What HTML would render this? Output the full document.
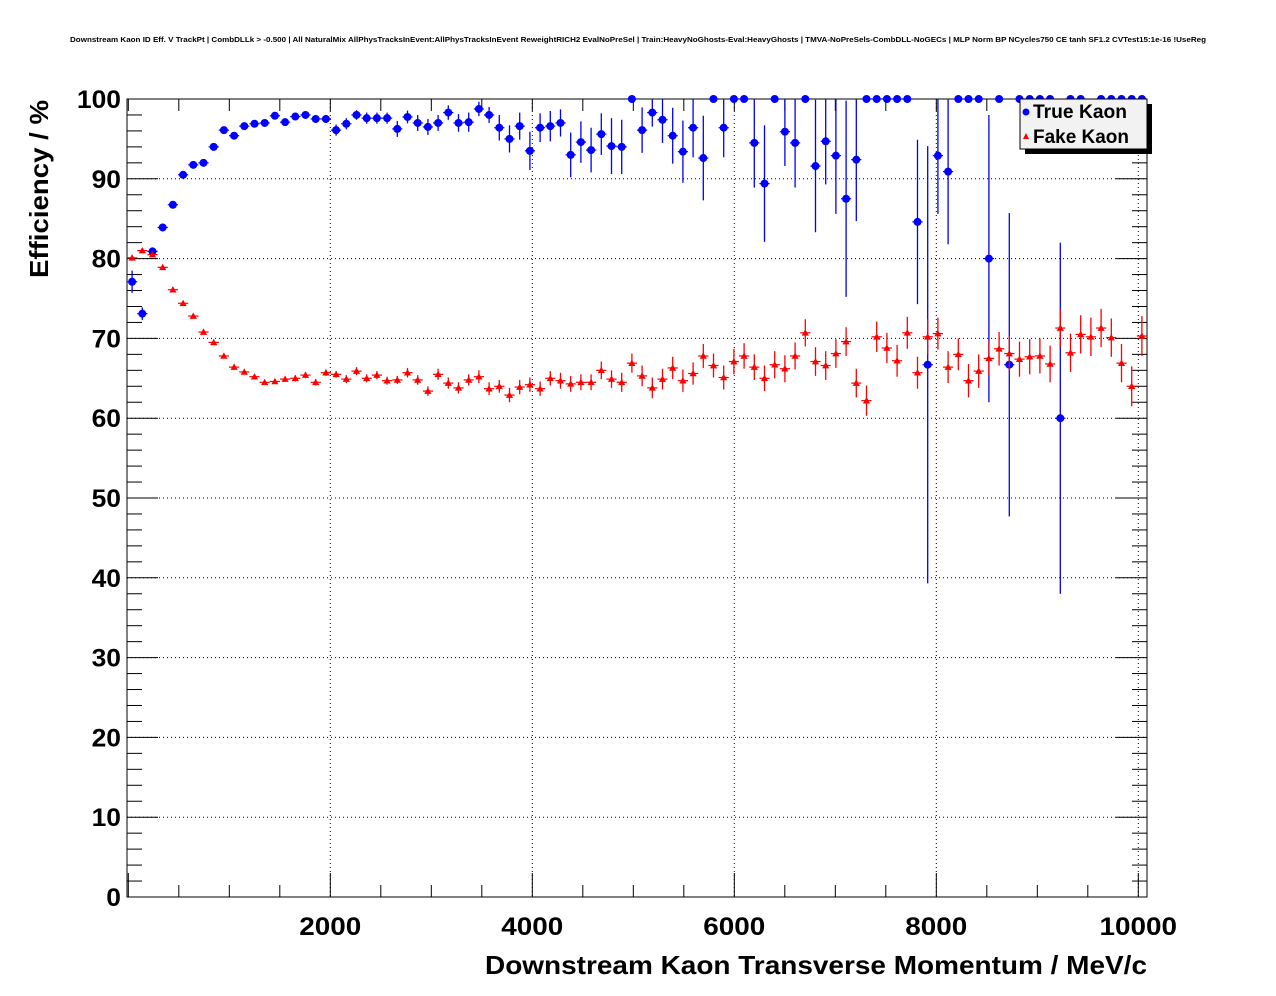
<!DOCTYPE html>
<html><head><meta charset="utf-8"><style>
html,body{margin:0;padding:0;background:#fff}
svg{display:block;font-family:"Liberation Sans",Arial,sans-serif}
</style></head><body>
<svg id="chart" width="1276" height="996" viewBox="0 0 1276 996">
<rect width="1276" height="996" fill="#fff"/>
<text x="638" y="42" font-size="7.6" font-weight="bold" text-anchor="middle" textLength="1136" lengthAdjust="spacingAndGlyphs">Downstream Kaon ID Eff. V TrackPt | CombDLLk &gt; -0.500 | All NaturalMix AllPhysTracksInEvent:AllPhysTracksInEvent ReweightRICH2 EvalNoPreSel | Train:HeavyNoGhosts-Eval:HeavyGhosts | TMVA-NoPreSels-CombDLL-NoGECs | MLP Norm BP NCycles750 CE tanh SF1.2 CVTest15:1e-16 !UseReg</text>
<g id="grid"></g>
<g id="axes"></g>
<g id="trueSeries"></g>
<g id="fakeSeries"></g>
<text x="485" y="974" font-size="26" font-weight="bold" textLength="662" lengthAdjust="spacingAndGlyphs">Downstream Kaon Transverse Momentum / MeV/c</text>
<text transform="translate(48,278) rotate(-90)" font-size="26" font-weight="bold" text-anchor="start" textLength="178" lengthAdjust="spacingAndGlyphs">Efficiency / %</text>
<g>
<rect x="1025" y="104" width="127" height="50" fill="#000"/>
<rect x="1020" y="99" width="127" height="50" fill="#f2f2f2" stroke="#000" stroke-width="1"/>
<g><circle cx="1026" cy="112" r="3.5" fill="#0000ff"/><text x="1033" y="118" font-size="19" font-weight="bold" textLength="94" lengthAdjust="spacingAndGlyphs">True Kaon</text></g>
<g><polygon points="1023,139 1029,139 1026,133" fill="#ff0000"/><text x="1033" y="143" font-size="19" font-weight="bold" textLength="96" lengthAdjust="spacingAndGlyphs">Fake Kaon</text></g>
</g>
</svg>
<script>
const xTicks=[2000,4000,6000,8000,10000];
const yTicks=[0,10,20,30,40,50,60,70,80,90,100];
const nBins=100;
const xMin=-13, xMax=10086;
const trueVals=[77.1,73.1,80.9,83.9,86.75,90.5,91.75,92,94,96.1,95.4,96.6,96.9,97,97.9,97.1,97.8,98,97.5,97.5,96.1,96.9,98,97.6,97.6,97.6,96.25,97.75,97,96.5,97,98.3,97,97.1,98.75,98,96.4,95,96.6,93.5,96.4,96.6,97,93,94.6,93.6,95.6,94.1,94,100,96.1,98.3,97.4,95.4,93.4,96.4,92.6,100,96.4,100,100,94.5,89.4,100,95.9,94.5,100,91.6,94.7,92.9,87.5,92.4,100,100,100,100,100,84.6,66.7,92.9,90.9,100,100,100,80,100,66.7,100,100,100,100,60,100,100,null,100,100,100,100,100];
const trueErr=[1.4,0.8,0.5,0.5,0.4,0.4,0.4,0.4,0.4,0.4,0.4,0.4,0.4,0.4,0.4,0.4,0.4,0.4,0.5,0.5,0.7,0.7,0.6,0.7,0.7,0.7,1,0.8,1,1,1,0.9,1.1,1.2,0.9,1,1.6,1.7,1.7,2.4,1.8,1.9,1.7,2.8,2.6,2.8,2.6,3.5,3.4,0,2.85,1.75,2.9,3.5,3.9,3.7,5.3,0,3.7,0,0,5.6,7.3,0,4.3,5.6,0,8.3,5.4,7.3,12.3,7.7,0,0,0,0,0,10.3,27.4,7.3,9.1,0,0,0,18,0,19,0,0,0,0,22,0,0,0,0,0,0,0,0];
const fakeVals=[80.1,81,80.5,78.9,76.1,74.4,72.8,70.8,69.5,67.8,66.4,65.8,65.2,64.5,64.6,64.9,65,65.4,64.5,65.7,65.5,64.9,65.9,65,65.4,64.7,64.8,65.7,64.8,63.4,65.5,64.4,63.8,64.8,65.2,63.7,64,62.9,63.9,64.2,63.7,65,64.7,64.3,64.5,64.5,66,64.9,64.5,66.9,65.3,63.8,64.9,66.3,64.7,65.6,67.8,66.6,65.1,67.1,67.8,66.4,65,66.7,66.2,67.8,70.7,67.1,66.6,68.1,69.6,64.4,62.2,70.2,68.8,67.2,70.7,65.7,70.2,70.6,66.4,68,64.7,65.9,67.5,68.7,68.1,67.4,67.7,67.8,66.8,71.3,68.2,70.5,70.2,71.3,70.1,66.9,64,70.3];
const fakeErr=[0.3,0.3,0.3,0.3,0.3,0.3,0.3,0.3,0.3,0.3,0.3,0.3,0.3,0.3,0.3,0.3,0.4,0.4,0.4,0.4,0.4,0.5,0.5,0.5,0.5,0.5,0.5,0.6,0.6,0.6,0.7,0.7,0.7,0.7,0.8,0.8,0.8,0.9,0.9,0.9,0.9,0.9,1,1,1,1,1.1,1.1,1.2,1.2,1.3,1.3,1.3,1.4,1.4,1.4,1.5,1.5,1.5,1.6,1.6,1.6,1.6,1.7,1.7,1.7,1.7,1.8,1.8,1.8,1.8,1.8,1.9,1.9,1.9,2,2,2,2.2,2,2,2,2.1,2.1,2.1,2.1,2.2,2.2,2.2,2.2,2.3,2.4,2.4,2.4,2.4,2.4,2.4,2.4,2.5,2.5];

const L=127,R=1147,T=99,B=897;
const ns='http://www.w3.org/2000/svg';
const X=v=>L+(v-xMin)/(xMax-xMin)*(R-L);
const Y=v=>B-(v/100)*(B-T);
const binW=(xMax-xMin)/nBins;
const binC=i=>xMin+(i+0.5)*binW;
function mk(tag,attrs,parent){const e=document.createElementNS(ns,tag);for(const k in attrs)e.setAttribute(k,attrs[k]);parent.appendChild(e);return e;}
const grid=document.getElementById('grid'),axes=document.getElementById('axes');
xTicks.forEach(t=>{const g=mk('line',{x1:X(t),x2:X(t),y1:T,y2:B,stroke:'#000','stroke-width':1,'stroke-dasharray':'1,3'},grid);

});
yTicks.forEach(t=>{const g=mk('line',{x1:L,x2:R,y1:Y(t),y2:Y(t),stroke:'#000','stroke-width':1,'stroke-dasharray':'1,3'},grid);

});
const fr=mk('rect',{x:L,y:T,width:R-L,height:B-T,fill:'none',stroke:'#000','stroke-width':1},axes);


for(let v=0;v<=100;v+=2){const maj=v%10===0;const len=maj?31:15;
mk('line',{x1:L,x2:L+len,y1:Y(v),y2:Y(v),stroke:'#000'},axes);
mk('line',{x1:R,x2:R-len,y1:Y(v),y2:Y(v),stroke:'#000'},axes);}
yTicks.forEach(t=>{const s=String(t);const tx=mk('text',{x:121,y:Y(t)+9,'font-size':25,'font-weight':'bold','text-anchor':'end',textLength:s.length*14.7,lengthAdjust:'spacingAndGlyphs'},axes);tx.textContent=s;

});
for(let v=0;v<=10000;v+=500){const maj=v%2000===0;
mk('line',{x1:X(v),x2:X(v),y1:B,y2:B-(maj?24:12),stroke:'#000'},axes);
mk('line',{x1:X(v),x2:X(v),y1:T,y2:T+12,stroke:'#000'},axes);}
xTicks.forEach(t=>{const s=String(t);const tx=mk('text',{x:X(t),y:935,'font-size':25,'font-weight':'bold','text-anchor':'middle',textLength:s.length*15.5,lengthAdjust:'spacingAndGlyphs'},axes);tx.textContent=s;

});
function draw(vals,errs,color,parent,shape,nm){
vals.forEach((v,i)=>{if(v===null)return;
const cx=X(binC(i)),cy=Y(v),g=mk('g',{},parent);


const hw=(X(binW)-X(0))/2;
mk('line',{x1:cx-hw,x2:cx+hw,y1:cy,y2:cy,stroke:color,'stroke-width':1.2},g);
const e=errs[i]||0;const top=Math.max(T,Y(Math.min(100,v+e))),bot=Y(Math.max(0,v-e));
if(e>0)mk('line',{x1:cx,x2:cx,y1:top,y2:bot,stroke:color,'stroke-width':1.3},g);
if(shape==='c')mk('circle',{cx:cx,cy:cy,r:4,fill:color},g);
else mk('polygon',{points:`${cx-3.6},${cy+2.8} ${cx+3.6},${cy+2.8} ${cx},${cy-3.6}`,fill:color},g);});}
draw(fakeVals,fakeErr,'#ff0000',document.getElementById('fakeSeries'),'t','fake-kaon-point');
draw(trueVals,trueErr,'#0000ff',document.getElementById('trueSeries'),'c','true-kaon-point');
</script>
</body></html>
